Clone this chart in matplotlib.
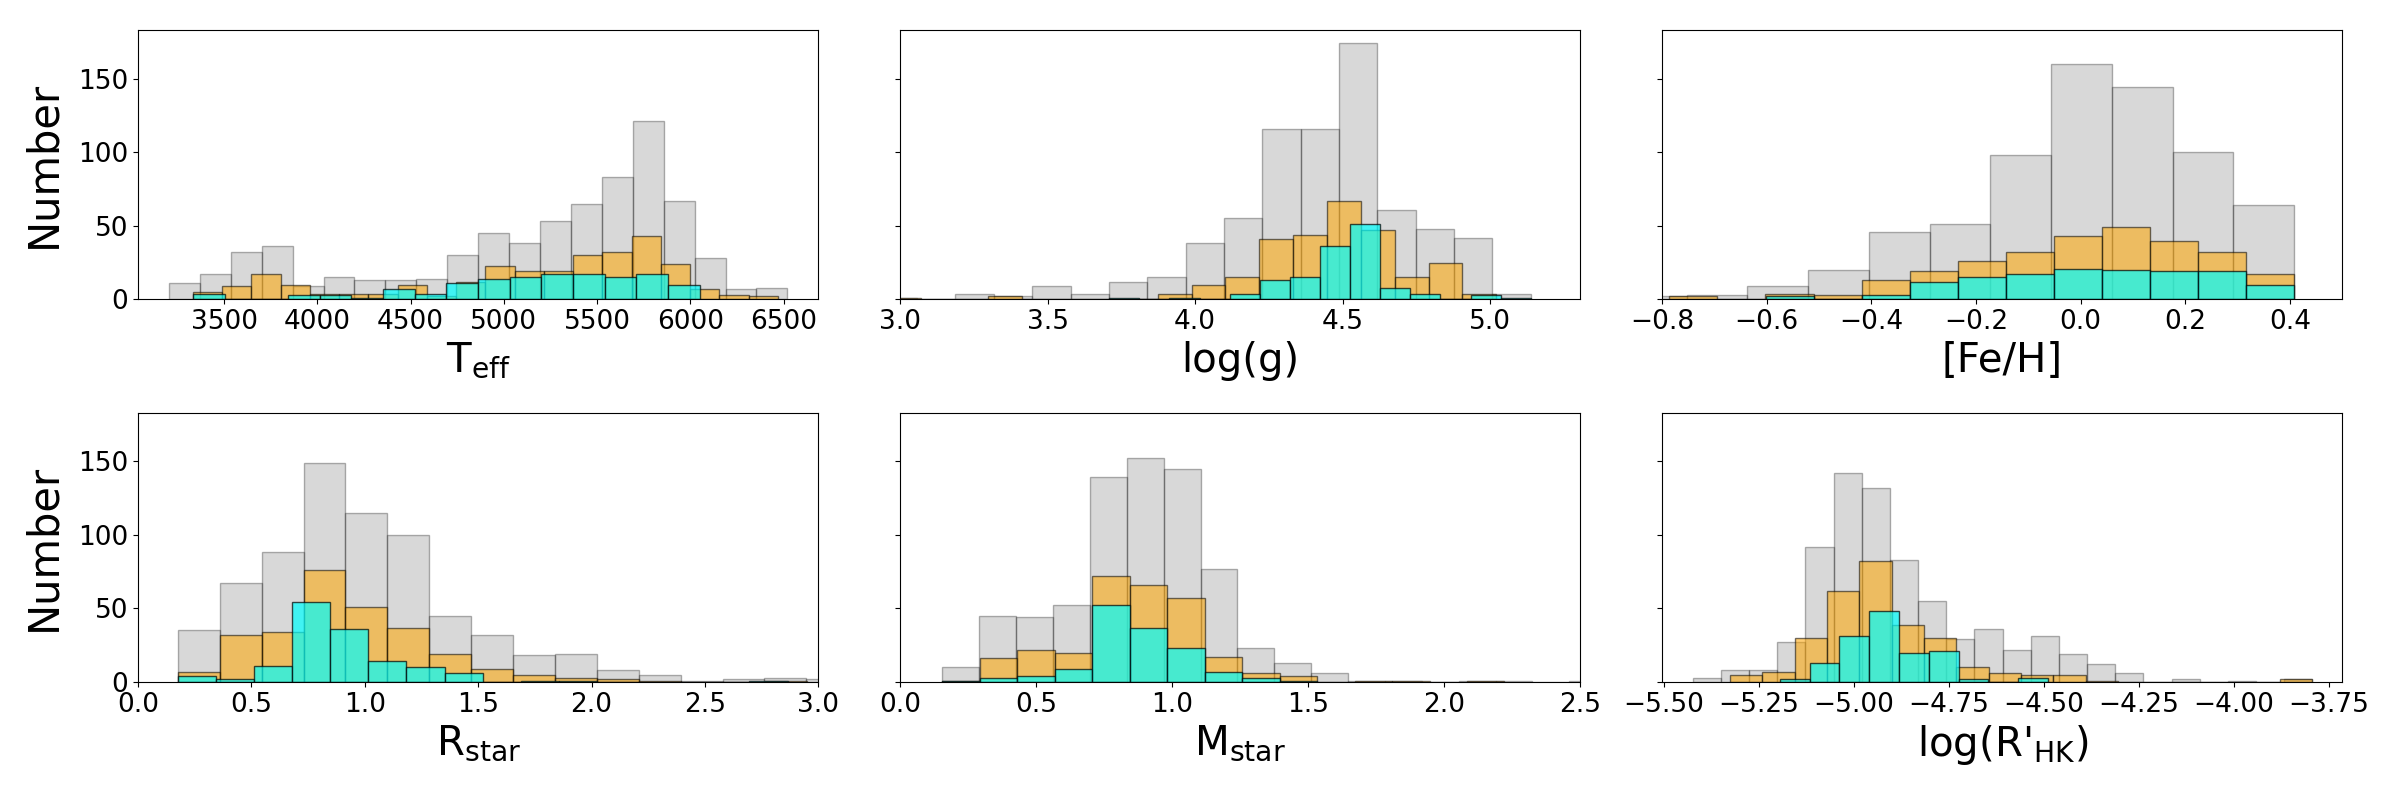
import matplotlib
matplotlib.use('Agg')
import numpy as np
import matplotlib.pyplot as plt

## Histogram counts, per panel and per sample
## (all stars = grey, sample 2 = orange, sample 3 = cyan)
## bin ranges are (first edge, last edge); bins are uniform inside that range

# T_eff
teff_all_rng = (3204, 6520)
teff_all = [11, 17, 32, 36, 9, 15, 13, 13, 14, 30, 45, 38, 53, 65, 83, 121, 67, 28, 7, 8]
teff_mid_rng = (3332, 6469)
teff_mid = [5, 9, 17, 10, 4, 4, 4, 10, 2, 12, 23, 19, 19, 30, 32, 43, 24, 7, 3, 2]
teff_sub_rng = (3332, 6050)
teff_sub = [4, 0, 0, 3, 3, 1, 7, 4, 11, 14, 15, 17, 17, 15, 17, 10]

# log(g)
logg_all_rng = (2.538, 5.138)
logg_all = [1, 0, 0, 1, 0, 4, 2, 9, 4, 12, 15, 38, 55, 116, 116, 174, 61, 48, 42, 4]
logg_mid_rng = (2.955, 5.021)
logg_mid = [1, 0, 0, 2, 0, 0, 0, 0, 4, 10, 15, 41, 44, 67, 47, 15, 25, 4]
logg_sub_rng = (3.709, 5.138)
logg_sub = [1, 0, 1, 0, 4, 13, 15, 36, 51, 8, 4, 0, 3, 1]

# [Fe/H]
feh_all_rng = (-0.869, 0.408)
feh_all = [2, 3, 9, 20, 46, 51, 98, 160, 144, 100, 64]
feh_mid_rng = (-0.786, 0.408)
feh_mid = [2, 0, 4, 3, 13, 19, 26, 32, 43, 49, 40, 32, 17]
feh_sub_rng = (-0.602, 0.408)
feh_sub = [2, 0, 3, 12, 15, 17, 21, 20, 19, 19, 10]

# R_star
rst_all_rng = (0.1756, 3.132)
rst_all = [35, 67, 88, 149, 115, 100, 45, 32, 18, 19, 8, 5, 1, 2, 3, 2]
rst_mid_rng = (0.1756, 2.948)
rst_mid = [7, 32, 34, 76, 51, 37, 19, 9, 5, 3, 2, 1, 0, 0, 1]
rst_sub_rng = (0.1756, 2.864)
rst_sub = [4, 2, 11, 54, 36, 14, 10, 6, 0, 1, 1, 0, 0, 0, 0, 1]

# M_star
mst_all_rng = (0.156, 2.595)
mst_all = [10, 45, 44, 52, 139, 152, 145, 77, 23, 13, 6, 1, 1, 0, 1, 1, 0, 1]
mst_mid_rng = (0.156, 2.221)
mst_mid = [1, 16, 22, 20, 72, 66, 57, 17, 6, 4, 0, 1, 1, 0, 1]
mst_sub_rng = (0.156, 1.533)
mst_sub = [1, 3, 4, 9, 52, 37, 23, 7, 3, 1]

# log(R'HK)
rhk_all_rng = (-5.424, -3.794)
rhk_all = [3, 8, 8, 27, 92, 142, 132, 83, 55, 29, 36, 22, 31, 19, 12, 6, 0, 2, 0, 1, 0, 2]
rhk_mid_rng = (-5.326, -3.795)
rhk_mid = [5, 7, 30, 62, 82, 39, 30, 10, 6, 5, 5, 1, 0, 0, 0, 0, 0, 2]
rhk_sub_rng = (-5.195, -4.490)
rhk_sub = [2, 13, 31, 48, 20, 21, 2, 0, 3]

xlabels = [r'T$_{\rm eff}$', 'log(g)', '[Fe/H]',
           r'R$_{\rm star}$', r'M$_{\rm star}$', r"log(R$'_{\rm HK}$)"]
xlims = [(3038, 6686), (3.0, 5.306), (-0.8, 0.5),
         (0.0, 3.0), (0.0, 2.5), (-5.505, -3.715)]

panels = [
    [(teff_all_rng, teff_all), (teff_mid_rng, teff_mid), (teff_sub_rng, teff_sub)],
    [(logg_all_rng, logg_all), (logg_mid_rng, logg_mid), (logg_sub_rng, logg_sub)],
    [(feh_all_rng, feh_all), (feh_mid_rng, feh_mid), (feh_sub_rng, feh_sub)],
    [(rst_all_rng, rst_all), (rst_mid_rng, rst_mid), (rst_sub_rng, rst_sub)],
    [(mst_all_rng, mst_all), (mst_mid_rng, mst_mid), (mst_sub_rng, mst_sub)],
    [(rhk_all_rng, rhk_all), (rhk_mid_rng, rhk_mid), (rhk_sub_rng, rhk_sub)],
]

styles = [dict(color='grey', alpha=0.3),
          dict(color='orange', alpha=0.55),
          dict(color='cyan', alpha=0.7)]

fig, axes = plt.subplots(2, 3, figsize=(24, 8), dpi=100, sharey=True)
fig.subplots_adjust(left=0.0575, right=0.976, bottom=0.1475, top=0.9625,
                    wspace=0.12, hspace=0.42)

for ii, ax in enumerate(axes.flat):
    for (rng, counts), st in zip(panels[ii], styles):
        edges = np.linspace(rng[0], rng[1], len(counts) + 1)
        ax.hist(edges[:-1], bins=edges, weights=counts, edgecolor='k',
                linewidth=1.0, **st)
    ax.set_xlim(xlims[ii])
    ax.set_ylim(0, 183)
    ax.set_xlabel(xlabels[ii], fontsize=29)
    ax.tick_params(labelsize=19)
    if ii % 3 == 0:
        ax.set_ylabel('Number', fontsize=30)
        ax.yaxis.set_label_coords(-0.108, 0.5)

axes[0, 0].set_yticks([0, 50, 100, 150])

fig.savefig('out.png', dpi=100)
